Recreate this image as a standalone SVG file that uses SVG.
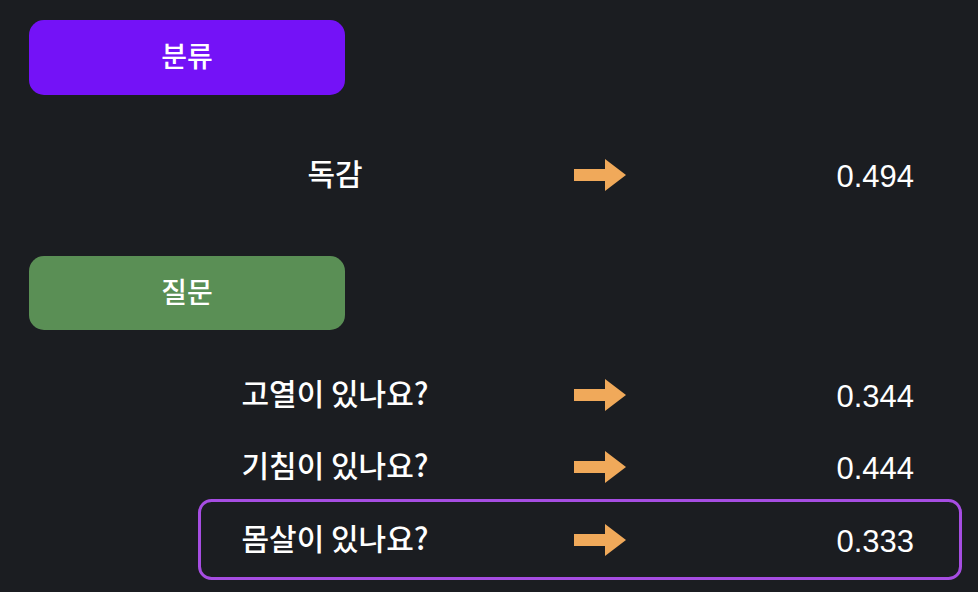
<svg xmlns="http://www.w3.org/2000/svg" width="978" height="592" viewBox="0 0 978 592">
<style>
.bg{fill:#1b1d21}
.lbl{font-family:"Noto Sans CJK KR","Noto Sans",sans-serif;font-size:28px;font-weight:500;fill:#ffffff;text-anchor:middle}
.q{font-family:"Noto Sans CJK KR","Noto Sans",sans-serif;font-size:30px;font-weight:500;fill:#ffffff;text-anchor:middle}
.num{font-family:"Liberation Sans",Arial,sans-serif;font-size:31px;fill:#ffffff;text-anchor:end}
.arr{fill:#f0a95a}
</style>
<defs>
<path id="arrow" d="M0,-6 H31 V-16 L52,0 L31,16 V6 H0 Z"/>
</defs>
<rect class="bg" x="0" y="0" width="978" height="592"/>
<g id="cat-header">
<rect x="29" y="20" width="316" height="75" rx="15" fill="#7412f7"/>
<text class="lbl" x="187" y="67">분류</text>
</g>
<g id="row-flu">
<text class="q" x="335" y="185">독감</text>
<use href="#arrow" class="arr" x="574" y="175"/>
<text class="num" x="914" y="187">0.494</text>
</g>
<g id="q-header">
<rect x="29" y="256" width="316" height="74" rx="15" fill="#5a8f55"/>
<text class="lbl" x="187" y="303">질문</text>
</g>
<g id="row-fever">
<text class="q" x="335" y="405">고열이 있나요?</text>
<use href="#arrow" class="arr" x="574" y="395"/>
<text class="num" x="914" y="407">0.344</text>
</g>
<g id="row-cough">
<text class="q" x="335" y="477">기침이 있나요?</text>
<use href="#arrow" class="arr" x="574" y="467"/>
<text class="num" x="914" y="479">0.444</text>
</g>
<g id="row-chills">
<rect x="199.5" y="500.5" width="761" height="78" rx="12" fill="none" stroke="#a64de2" stroke-width="3"/>
<text class="q" x="335" y="550">몸살이 있나요?</text>
<use href="#arrow" class="arr" x="574" y="540"/>
<text class="num" x="914" y="552">0.333</text>
</g>
<g id="connectors"></g>
</svg>
